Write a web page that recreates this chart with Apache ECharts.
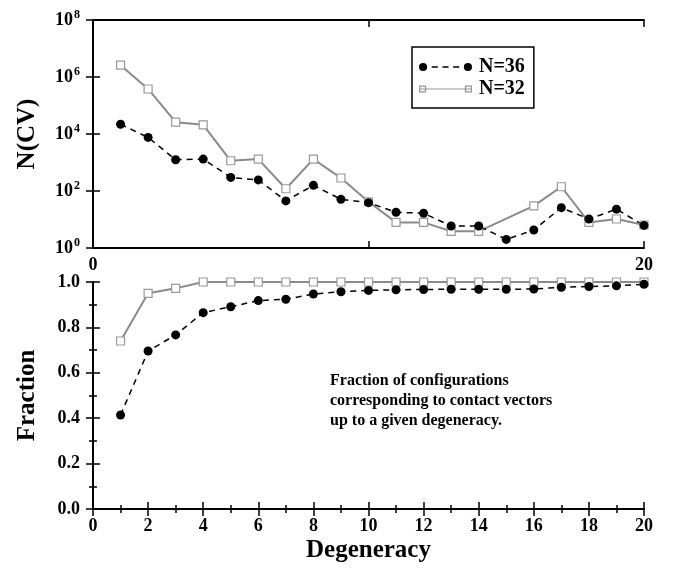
<!DOCTYPE html>
<html>
<head>
<meta charset="utf-8">
<script src="https://cdn.jsdelivr.net/npm/echarts@6/dist/echarts.min.js"></script>
<style>
  html, body { margin: 0; padding: 0; background: #fff; }
  #chart { width: 677px; height: 568px; }
</style>
</head>
<body>
<div id="chart"></div>
<script>
// degeneracy values on the x axis
const degeneracy = [1, 2, 3, 4, 5, 6, 7, 8, 9, 10, 11, 12, 13, 14, 15, 16, 17, 18, 19, 20];
// number of contact vectors N(CV), log scale
const countN36 = [22000, 7600, 1250, 1320, 300, 245, 45, 158, 51, 39, 18, 16.5, 5.9, 5.9, 2.0, 4.3, 26, 10.4, 23, 6.2];
const countN32 = [2.6e6, 3.8e5, 2.6e4, 2.1e4, 1150, 1320, 120, 1320, 286, 42, 7.9, 7.9, 3.85, 3.85, null, 30, 141, 7.9, 10.4, 6.4];
// cumulative fraction of configurations
const fracN36 = [0.414, 0.696, 0.767, 0.865, 0.891, 0.918, 0.924, 0.947, 0.957, 0.963, 0.966, 0.967, 0.968, 0.968, 0.968, 0.969, 0.977, 0.980, 0.983, 0.990];
const fracN32 = [0.74, 0.95, 0.972, 1, 1, 1, 1, 1, 1, 1, 1, 1, 1, 1, 1, 1, 1, 1, 1, 1];
const seriesNames = ['N=36', 'N=32'];
const logTicks = ['10^0', '10^2', '10^4', '10^6', '10^8'];
const annotation = ['Fraction of configurations', 'corresponding to contact vectors', 'up to a given degeneracy.'];

const serif = 'Liberation Serif';
const pairs = (ys) => degeneracy.map((x, i) => [x, ys[i]]);

// legend keys like the original: marker at both ends of the line sample
const iconDashed = 'path://M0.5,5a4,4 0 1,0 8,0a4,4 0 1,0 -8,0Z' +
  'M44.5,5a4,4 0 1,0 8,0a4,4 0 1,0 -8,0Z' +
  'M13,4.3H19V5.7H13Z M23.5,4.3H29.5V5.7H23.5Z M34,4.3H40V5.7H34Z';
const iconSolid = 'path://M0.5,1.5H7.5V8.5H0.5Z M1.7,2.7V7.3H6.3V2.7Z' +
  'M45.5,1.5H52.5V8.5H45.5Z M46.7,2.7V7.3H51.3V2.7Z' +
  'M0.5,4.4H52.5V5.6H0.5Z';

var myChart = echarts.init(document.getElementById('chart'));

const frameLine = { lineStyle: { color: '#000', width: 2 } };
const labelStyle = { color: '#000', fontFamily: serif, fontWeight: 'bold', fontSize: 18 };
const nameStyle = { color: '#000', fontFamily: serif, fontWeight: 'bold', fontSize: 25 };

// one frame side of a grid: line, inward ticks, optional labels
function sideAxis(grid, pos, type, opts) {
  return Object.assign({
    gridIndex: grid, type: type, position: pos,
    axisLine: frameLine,
    axisTick: { show: true, inside: true, length: 7, lineStyle: { color: '#000', width: 1.5 } },
    axisLabel: { show: false },
    splitLine: { show: false }
  }, opts);
}
// short ticks only, no line, no labels (minor ticks)
function minorAxis(grid, pos, opts) {
  return Object.assign({
    gridIndex: grid, type: 'value', position: pos,
    axisLine: { show: false },
    axisTick: { show: true, inside: true, length: 4, lineStyle: { color: '#000', width: 1.5 } },
    axisLabel: { show: false },
    splitLine: { show: false }
  }, opts);
}

const xTop = { min: 0, max: 20, interval: 10 };
const xBot = { min: 0, max: 20, interval: 2 };
const xMinor = { min: 0, max: 20, interval: 1 };
const yLog = { min: 1, max: 1e8, logBase: 100 };
const yFrac = { min: 0, max: 1, interval: 0.2 };
const yMinor = { min: 0, max: 1, interval: 0.1 };

const option = {
  backgroundColor: '#fff',
  animation: false,
  grid: [
    { left: 93, right: 33, top: 20, height: 228 },
    { left: 93, right: 33, top: 282, height: 227 }
  ],
  legend: {
    data: [
      { name: seriesNames[0], icon: iconDashed, itemStyle: { color: '#000', borderWidth: 0 } },
      { name: seriesNames[1], icon: iconSolid, itemStyle: { color: '#959595', borderWidth: 0 } }
    ],
    orient: 'vertical',
    left: 412, top: 47,
    borderColor: '#000', borderWidth: 1.5,
    padding: [10, 9, 9, 7],
    itemGap: 2, itemWidth: 53, itemHeight: 10,
    textStyle: { color: '#000', fontFamily: serif, fontWeight: 'bold', fontSize: 20, padding: [0, 0, 0, 2] }
  },
  xAxis: [
    sideAxis(0, 'bottom', 'value', Object.assign({
      axisLabel: Object.assign({ margin: 8, formatter: (v) => (v === 10 ? '' : v) }, labelStyle)
    }, xTop)),
    sideAxis(0, 'top', 'value', xTop),
    sideAxis(1, 'bottom', 'value', Object.assign({
      axisLabel: Object.assign({ margin: 8 }, labelStyle),
      name: 'Degeneracy', nameLocation: 'middle', nameGap: 29, nameTextStyle: nameStyle
    }, xBot)),
    sideAxis(1, 'top', 'value', xBot),
    minorAxis(1, 'bottom', xMinor),
    minorAxis(1, 'top', xMinor)
  ],
  yAxis: [
    sideAxis(0, 'left', 'log', Object.assign({
      name: 'N(CV)', nameLocation: 'middle', nameGap: 53, nameRotate: 90, nameTextStyle: nameStyle,
      axisLabel: {
        margin: 13,
        formatter: (v) => {
          const t = logTicks[Math.round(Math.log10(v) / 2)].split('^');
          return '{b|' + t[0] + '}{s|' + t[1] + '}';
        },
        rich: {
          b: { color: '#000', fontFamily: serif, fontWeight: 'bold', fontSize: 18 },
          s: { color: '#000', fontFamily: serif, fontWeight: 'bold', fontSize: 12, padding: [0, 0, 10, 1] }
        }
      }
    }, yLog)),
    sideAxis(0, 'right', 'log', yLog),
    sideAxis(1, 'left', 'value', Object.assign({
      name: 'Fraction', nameLocation: 'middle', nameGap: 53, nameRotate: 90, nameTextStyle: nameStyle,
      axisLabel: Object.assign({ margin: 13, formatter: (v) => v.toFixed(1) }, labelStyle)
    }, yFrac)),
    sideAxis(1, 'right', 'value', yFrac),
    minorAxis(1, 'left', yMinor),
    minorAxis(1, 'right', yMinor)
  ],
  graphic: [
    {
      type: 'text', left: 330, top: 371,
      style: {
        text: annotation.join('\n'),
        fill: '#000', font: 'bold 16px "Liberation Serif"', lineHeight: 20
      }
    }
  ],
  series: [
    {
      name: 'N=32', type: 'line', xAxisIndex: 0, yAxisIndex: 0,
      data: pairs(countN32), connectNulls: true,
      symbol: 'rect', symbolSize: 8,
      lineStyle: { color: '#8a8a8a', width: 2 },
      itemStyle: { color: '#fff', borderColor: '#999', borderWidth: 1.2 }
    },
    {
      name: 'N=36', type: 'line', xAxisIndex: 0, yAxisIndex: 0,
      data: pairs(countN36),
      symbol: 'circle', symbolSize: 9,
      lineStyle: { color: '#000', width: 1.5, type: [6, 5] },
      itemStyle: { color: '#000' }
    },
    {
      name: 'N=32', type: 'line', xAxisIndex: 2, yAxisIndex: 2,
      data: pairs(fracN32),
      symbol: 'rect', symbolSize: 8, clip: false,
      lineStyle: { color: '#8a8a8a', width: 2 },
      itemStyle: { color: '#fff', borderColor: '#999', borderWidth: 1.2 }
    },
    {
      name: 'N=36', type: 'line', xAxisIndex: 2, yAxisIndex: 2,
      data: pairs(fracN36),
      symbol: 'circle', symbolSize: 9, clip: false,
      lineStyle: { color: '#000', width: 1.5, type: [6, 5] },
      itemStyle: { color: '#000' }
    }
  ]
};

myChart.setOption(option);
</script>
</body>
</html>
